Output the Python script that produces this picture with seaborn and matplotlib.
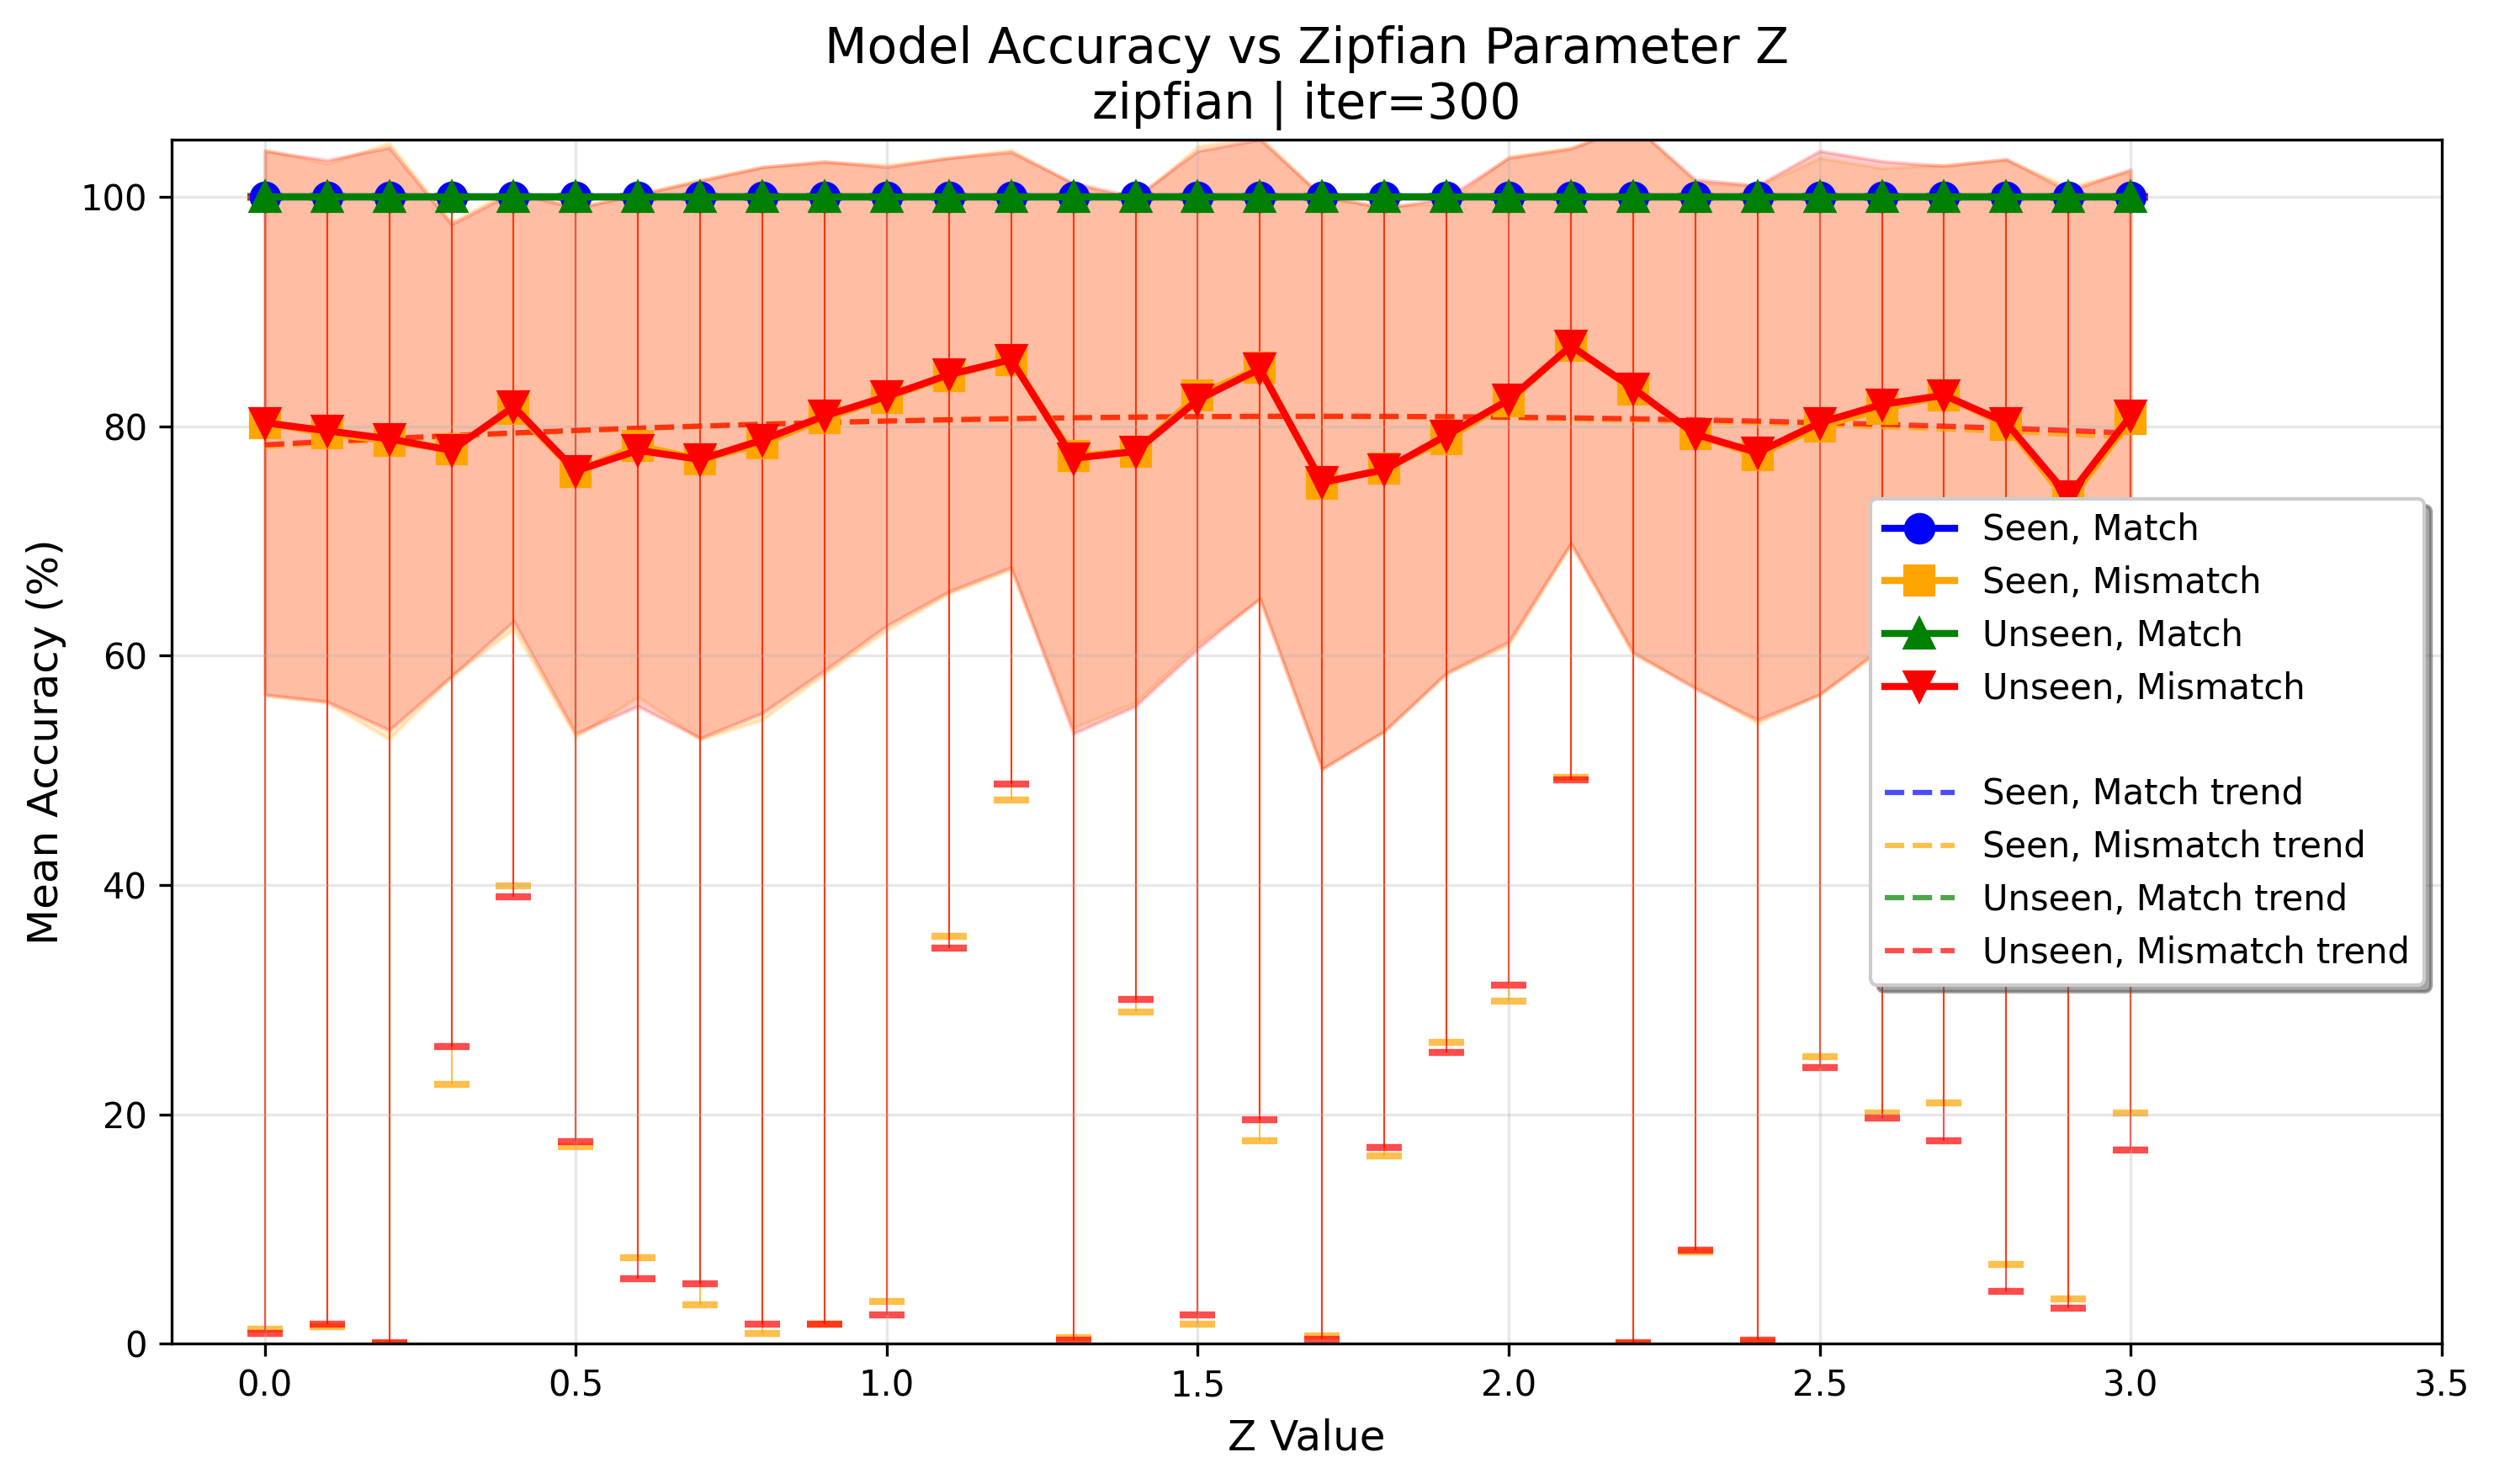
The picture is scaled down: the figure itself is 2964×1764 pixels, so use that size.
import numpy as np
import matplotlib
matplotlib.use("Agg")
import matplotlib.pyplot as plt
from matplotlib.lines import Line2D
import seaborn as sns

# Z parameter values
z_values = [0.0, 0.1, 0.2, 0.3, 0.4, 0.5, 0.6, 0.7, 0.8, 0.9, 1.0,
            1.1, 1.2, 1.3, 1.4, 1.5, 1.6, 1.7, 1.8, 1.9, 2.0,
            2.1, 2.2, 2.3, 2.4, 2.5, 2.6, 2.7, 2.8, 2.9, 3.0]

# mean accuracy per condition
seen_match = [100.0] * 31
unseen_match = [100.0] * 31
seen_mismatch = [80.3, 79.4, 78.7, 78.0, 81.5, 76.0, 78.3, 77.1, 78.5, 80.7, 82.5,
                 84.4, 85.8, 77.4, 77.8, 82.7, 85.1, 75.0, 76.3, 78.9, 82.2,
                 87.0, 83.2, 79.3, 77.5, 80.0, 81.5, 82.7, 80.1, 73.4, 80.6]
unseen_mismatch = [80.3, 79.6, 78.9, 77.9, 81.7, 76.1, 77.9, 77.1, 78.8, 80.9, 82.6,
                   84.5, 85.8, 77.2, 77.8, 82.3, 85.0, 75.1, 76.2, 79.2, 82.3,
                   87.0, 83.3, 79.3, 77.7, 80.3, 81.9, 82.7, 80.3, 73.9, 80.9]

# std (shaded band)
seen_match_std = [0.0] * 31
unseen_match_std = [0.0] * 31
seen_mismatch_std = [23.8, 23.5, 26.0, 19.8, 19.2, 23.1, 21.9, 24.4, 24.1, 22.3, 20.3,
                     19.0, 18.3, 23.7, 21.9, 21.7, 20.2, 24.9, 22.9, 20.5, 21.3,
                     17.3, 23.1, 22.0, 23.4, 23.4, 21.0, 20.1, 23.1, 27.5, 21.6]
unseen_mismatch_std = [23.7, 23.6, 25.4, 19.7, 18.7, 22.9, 22.3, 24.3, 23.8, 22.2, 20.0,
                       18.9, 18.1, 24.0, 22.2, 21.7, 20.0, 25.0, 22.8, 20.7, 21.1,
                       17.2, 23.0, 22.2, 23.3, 23.7, 21.2, 20.0, 23.0, 26.6, 21.5]

# min / max accuracy (error bars)
seen_match_min = [100.0] * 31
unseen_match_min = [100.0] * 31
seen_mismatch_min = [1.3, 1.5, 0.0, 22.6, 39.9, 17.2, 7.5, 3.4, 0.9, 1.7, 3.7,
                     35.5, 47.4, 0.5, 28.9, 1.7, 17.7, 0.7, 16.4, 26.3, 29.9,
                     49.4, 0.0, 8.0, 0.2, 25.0, 20.1, 21.0, 6.9, 3.9, 20.1]
unseen_mismatch_min = [0.9, 1.7, 0.1, 25.9, 39.0, 17.6, 5.7, 5.2, 1.7, 1.7, 2.5,
                       34.5, 48.8, 0.3, 30.0, 2.5, 19.5, 0.4, 17.1, 25.4, 31.3,
                       49.2, 0.1, 8.2, 0.3, 24.1, 19.7, 17.7, 4.6, 3.1, 16.9]
max_accuracy = [100.0] * 31

conditions = [
    ("Seen, Match", seen_match, seen_match_std, seen_match_min, "blue", "o"),
    ("Seen, Mismatch", seen_mismatch, seen_mismatch_std, seen_mismatch_min, "orange", "s"),
    ("Unseen, Match", unseen_match, unseen_match_std, unseen_match_min, "green", "^"),
    ("Unseen, Mismatch", unseen_mismatch, unseen_mismatch_std, unseen_mismatch_min, "red", "v"),
]

fig, ax = plt.subplots(figsize=(9.88, 5.88), dpi=300)
fig.subplots_adjust(left=0.0688, right=0.979, bottom=0.0945, top=0.906)

z = np.array(z_values)
hi = np.array(max_accuracy)

for label, mean, std, lo, color, marker in conditions:
    mean = np.array(mean)
    std = np.array(std)
    lo = np.array(lo)
    ax.fill_between(z, mean - std, mean + std, color=color, alpha=0.2, zorder=1)
    ax.errorbar(z, mean, yerr=[mean - lo, hi - mean], fmt="none", ecolor=color,
                alpha=0.7, elinewidth=0.5, capsize=5, capthick=2, zorder=1.5)

trend_handles = []
for label, mean, std, lo, color, marker in conditions:
    coef = np.polyfit(z, mean, 2)
    sns.lineplot(x=z, y=np.polyval(coef, z), color=color, linestyle="--",
                 linewidth=1.5, alpha=0.7, ax=ax, zorder=2, legend=False)
    trend_handles.append(Line2D([], [], color=color, linestyle="--", linewidth=1.5, alpha=0.7))

main_handles = []
for label, mean, std, lo, color, marker in conditions:
    sns.lineplot(x=z, y=mean, color=color, marker=marker, markersize=8,
                 markeredgecolor=color, markeredgewidth=1, linewidth=2,
                 ax=ax, zorder=3, legend=False)
    main_handles.append(Line2D([], [], color=color, marker=marker, markersize=8,
                               markeredgecolor=color, linewidth=2))

blank = Line2D([], [], color="none")
handles = main_handles + [blank] + trend_handles
labels = [c[0] for c in conditions] + [" "] + [c[0] + " trend" for c in conditions]
ax.legend(handles, labels, loc="center right", fontsize=10, shadow=True, fancybox=True)

ax.set_xlim(-0.15, 3.5)
ax.set_ylim(0, 105)
ax.grid(True, alpha=0.3)
ax.set_xlabel("Z Value", fontsize=12)
ax.set_ylabel("Mean Accuracy (%)", fontsize=12)
ax.set_title("Model Accuracy vs Zipfian Parameter Z\nzipfian | iter=300", fontsize=14)

fig.savefig("out.png", dpi=300)
